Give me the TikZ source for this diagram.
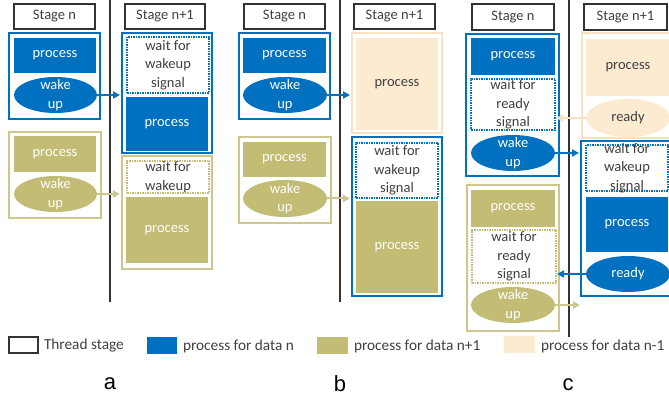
\documentclass[tikz,border=0pt]{standalone}
\usepackage{fontspec}
\setmainfont{Carlito}
\newfontfamily\panelfont{Liberation Sans}
\usetikzlibrary{arrows.meta,shapes.geometric}

\definecolor{pblue}{HTML}{0070C0}
\definecolor{polive}{HTML}{C3BC74}
\definecolor{poliveline}{HTML}{CDC78E}
\definecolor{ppeach}{HTML}{FDEBD1}
\definecolor{ppeachline}{HTML}{F8E2C2}
\definecolor{stagegray}{HTML}{333333}
\definecolor{txtgray}{HTML}{404040}

% box placed by its corners (x1,y1)-(x2,y2); its text sits in a centred label
\newcommand\placebox[8][]{%
  \node[#1, minimum width={(#5-#3)*1pt}, minimum height={(#6-#4)*1pt},
        label={[boxtext,#7]center:{#8}}] (#2) at ({(#3+#5)/2},{(#4+#6)/2}) {};}
% plain swatch for the legend
\newcommand\swatch[6][]{%
  \node[#1, minimum width={(#5-#3)*1pt}, minimum height={(#6-#4)*1pt}] (#2)
        at ({(#3+#5)/2},{(#4+#6)/2}) {};}

\tikzset{
  every node/.style={inner sep=0pt, outer sep=0pt},
  boxtext/.style={align=center, font=\fontsize{14.5}{18.5}\selectfont, inner sep=0pt},
  stagebox/.style={rectangle, draw=stagegray, line width=2pt, fill=white},
  stagetext/.style={text=txtgray},
  blueouter/.style={rectangle, draw=pblue, line width=1.5pt},
  oliveouter/.style={rectangle, draw=poliveline, line width=1.5pt},
  peachouter/.style={rectangle, draw=ppeachline, line width=1.5pt},
  blueproc/.style={rectangle, fill=pblue},
  oliveproc/.style={rectangle, fill=polive},
  peachproc/.style={rectangle, fill=ppeach},
  bluewake/.style={ellipse, fill=pblue},
  olivewake/.style={ellipse, fill=polive},
  peachwake/.style={ellipse, fill=ppeach},
  bluewait/.style={rectangle, draw=pblue, line width=2pt, dash pattern=on 1.5pt off 1pt, fill=white},
  olivewait/.style={rectangle, draw=polive, line width=2pt, dash pattern=on 1.5pt off 1pt, fill=white},
  light/.style={text=white},
  dark/.style={text=txtgray},
  divider/.style={draw=stagegray, line width=1.6pt},
  sig/.style={line width=2pt, -{Triangle[length=7pt,width=7pt]}},
  bluesig/.style={sig, draw=pblue, fill=pblue},
  olivesig/.style={sig, draw=poliveline, fill=poliveline},
  peachsig/.style={sig, draw=ppeachline, fill=ppeachline},
  legendtext/.style={anchor=west, text=txtgray, font=\fontsize{15.3}{18}\selectfont},
  panel/.style={font=\panelfont\fontsize{22}{24}\selectfont, text=black},
}

\begin{document}
\begin{tikzpicture}[x=1pt, y=-1pt]
\useasboundingbox (0,0) rectangle (669,395);
\clip (0,0) rectangle (669,395);

% stage dividers
\coordinate (da0) at (110,0);   \coordinate (da1) at (110,302);
\coordinate (db0) at (340,0);   \coordinate (db1) at (340,302);
\coordinate (dc0) at (569,0);   \coordinate (dc1) at (569,337);
\draw[divider] (da0) -- (da1);
\draw[divider] (db0) -- (db1);
\draw[divider] (dc0) -- (dc1);

% ---------- a ----------
\placebox[stagebox]{sa1}{14}{4}{95}{29}{stagetext}{Stage n}
\placebox[stagebox]{sa2}{125}{4}{205}{29}{stagetext}{Stage n+1}

\placebox[blueouter]{oa1}{9}{33}{100}{119}{}{}
\placebox[blueproc]{pa1}{14}{38}{96}{73}{light}{process}
\placebox[bluewake]{wa1}{14}{77}{97}{113}{light}{wake\\up}

\placebox[blueouter]{oa2}{122}{33}{212}{153}{}{}
\placebox[bluewait]{ka2}{127}{37}{209}{93}{dark}{wait for\\wakeup\\signal}
\placebox[blueproc]{pa2}{126}{97}{208}{151}{light}{process}

\placebox[oliveouter]{oa3}{9}{132}{101}{218}{}{}
\placebox[oliveproc]{pa3}{14}{136}{96}{172}{light}{process}
\placebox[olivewake]{wa3}{14}{176}{97}{212}{light}{wake\\up}

\placebox[oliveouter]{oa4}{122}{156}{212}{269}{}{}
\placebox[olivewait]{ka4}{127}{161}{209}{193}{dark}{wait for\\wakeup}
\placebox[oliveproc]{pa4}{126}{197}{208}{263}{light}{process}

\draw[bluesig, shorten >=2pt] (wa1.east) -- (wa1.east -| oa2.west);
\draw[olivesig, shorten >=2pt] (wa3.east) -- (wa3.east -| oa4.west);

% ---------- b ----------
\placebox[stagebox]{sb1}{244}{4}{325}{29}{stagetext}{Stage n}
\placebox[stagebox]{sb2}{354}{4}{435}{29}{stagetext}{Stage n+1}

\placebox[blueouter]{ob1}{239}{33}{330}{119}{}{}
\placebox[blueproc]{pb1}{243}{38}{326}{73}{light}{process}
\placebox[bluewake]{wb1}{243}{77}{327}{113}{light}{wake\\up}

\placebox[peachouter]{ob2}{352}{33}{442}{133}{}{}
\placebox[peachproc]{pb2}{356}{38}{438}{130}{dark}{process}

\placebox[oliveouter]{ob3}{239}{137}{331}{223}{}{}
\placebox[oliveproc]{pb3}{243}{142}{326}{177}{light}{process}
\placebox[olivewake]{wb3}{243}{180}{327}{217}{light}{wake\\up}

\placebox[blueouter]{ob4}{352}{137}{442}{296}{}{}
\placebox[bluewait]{kb4}{356}{143}{438}{198}{dark}{wait for\\wakeup\\signal}
\placebox[oliveproc]{pb4}{356}{201}{438}{293}{light}{process}

\draw[bluesig, shorten >=2pt] (wb1.east) -- (wb1.east -| ob2.west);
\draw[olivesig, shorten >=2pt] (wb3.east) -- (wb3.east -| ob4.west);

% ---------- c ----------
\placebox[stagebox]{sc1}{472}{4}{554}{30}{stagetext}{Stage n}
\placebox[stagebox]{sc2}{584}{4}{667}{30}{stagetext}{Stage n+1}

\placebox[blueouter]{oc1}{466}{34}{559}{176}{}{}
\placebox[blueproc]{pc1}{471}{38}{555}{75}{light}{process}
\placebox[bluewait]{kc1}{471}{79}{555}{130}{dark}{wait for\\ready\\signal}
\placebox[bluewake]{wc1}{471}{135}{555}{171}{light}{wake\\up}

\placebox[peachouter]{oc2}{582}{33}{669.5}{138}{}{}
\placebox[peachproc]{pc2}{586}{39}{670}{96}{dark}{process}
\placebox[peachwake]{rc2}{586}{99}{670}{137}{dark}{ready}

\placebox[oliveouter]{oc3}{467}{185}{559}{331}{}{}
\placebox[oliveproc]{pc3}{471}{190}{555}{227}{light}{process}
\placebox[olivewait]{kc3}{472}{230}{556}{283}{dark}{wait for\\ready\\signal}
\placebox[olivewake]{wc3}{471}{287}{555}{323}{light}{wake\\up}

\placebox[blueouter]{oc4}{581}{141}{669.5}{296}{}{}
\placebox[bluewait]{kc4}{586}{145}{668}{191}{dark}{wait for\\wakeup\\signal}
\placebox[blueproc]{pc4}{586}{197}{668}{252}{light}{process}
\placebox[bluewake]{rc4}{586}{256}{670}{292}{light}{ready}

\coordinate (fc3) at (580,305);
\draw[bluesig, shorten >=2pt] (wc1.east) -- (wc1.east -| oc4.west);
\draw[peachsig, shorten >=-3pt] (rc2.west) -- (rc2.west -| oc1.east);
\draw[bluesig, shorten >=-2pt] (rc4.west) -- (rc4.west -| oc3.east);
\draw[olivesig] (wc3.east) -- (fc3);

% ---------- legend ----------
\swatch[rectangle, draw=stagegray, line width=1.5pt, fill=white]{lg1}{9}{337}{38}{353}
\node[legendtext] (lt1) at (44,346) {Thread stage};
\swatch[blueproc]{lg2}{147}{337}{177}{354}
\node[legendtext] (lt2) at (183,346) {process for data n};
\swatch[oliveproc]{lg3}{317}{337}{348}{354}
\node[legendtext] (lt3) at (354,346) {process for data n+1};
\swatch[peachproc]{lg4}{504}{336}{535}{353}
\node[legendtext] (lt4) at (541,346) {process for data n-1};

% panel letters
\node[panel] (capa) at (110,384) {a};
\node[panel] (capb) at (340,384) {b};
\node[panel] (capc) at (568,385) {c};
\end{tikzpicture}
\end{document}
